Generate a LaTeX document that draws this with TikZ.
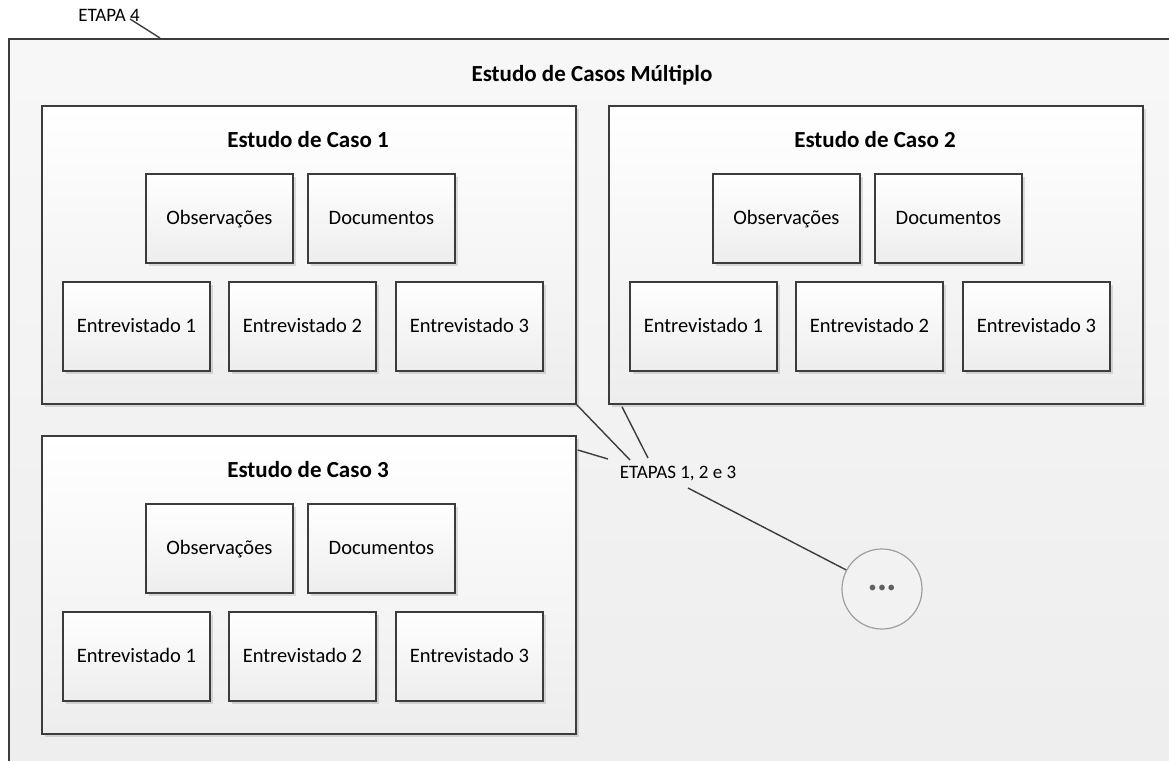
\documentclass[tikz,border=0pt]{standalone}
\usepackage{fontspec}
\setmainfont{Carlito}
\usetikzlibrary{shadows,calc}
\definecolor{edge}{HTML}{3C3C3C}
\definecolor{lowgray}{HTML}{EDEDED}
\tikzset{
  box/.style={draw=edge, line width=1.8pt, top color=white, bottom color=lowgray,
    drop shadow={shadow xshift=3pt, shadow yshift=-3pt, fill=black, opacity=0.12}},
  casebox/.style={box, minimum width=534pt, minimum height=298pt, anchor=north west},
  item/.style={box, minimum width=147pt, minimum height=89pt, anchor=north west, font=\fontsize{20.5}{24}\selectfont, inner sep=0pt, text height=1.15em, text depth=0em},
  ttl/.style={font=\bfseries\fontsize{23}{27}\selectfont},
  lbl/.style={font=\fontsize{19}{22}\selectfont, inner sep=1pt},
  conn/.style={draw=edge, line width=1.4pt},
  dots/.style={circle, draw=gray!75, line width=1.2pt, fill=white!95!black, minimum size=80pt, inner sep=0pt, text=gray!75!black}
}
\begin{document}
\begin{tikzpicture}[x=1pt,y=-1pt]
\useasboundingbox (0,0) rectangle (1169,760);
\begin{scope}
\clip (0,0) rectangle (1169,760);
\node[draw=edge, line width=1.8pt, top color=white!97!black, bottom color=lowgray, minimum width=1200pt, minimum height=760pt, anchor=north west] (outer) at (8,38) {};
\end{scope}
\node[lbl] (e4) at (109,15) {ETAPA 4};
\coordinate (e4a) at (130,19);
\coordinate (e4end) at (160,38);
\draw[conn] (e4a) -- (e4end);

\node[ttl] (main) at (592,75) {Estudo de Casos Múltiplo};

% Case boxes
\node[casebox] (c1) at (41,105) {};
\node[casebox] (c2) at (608,105) {};
\node[casebox] (c3) at (41,435) {};

\foreach \c/\x/\y/\n in {c1/41/105/1, c2/608/105/2, c3/41/435/3}{
  \node[ttl] (\c t) at ($(\x,\y)+(267,35)$) {Estudo de Caso \n};
  \node[item] (\c obs) at ($(\x,\y)+(104,68)$) {Observações};
  \node[item] (\c doc) at ($(\x,\y)+(266,68)$) {Documentos};
  \node[item] (\c e1) at ($(\x,\y)+(21,176)$) {Entrevistado 1};
  \node[item] (\c e2) at ($(\x,\y)+(187,176)$) {Entrevistado 2};
  \node[item] (\c e3) at ($(\x,\y)+(354,176)$) {Entrevistado 3};
}

\node[dots] (more) at (882,589) {\fontsize{16}{16}\selectfont\textbullet\hspace{1.5pt}\textbullet\hspace{1.5pt}\textbullet};

\node[lbl] (etapas) at (678,474) {ETAPAS 1, 2 e 3};
\draw[conn] (c1.south east) -- ($(etapas.center)+(-48,-14)$);
\draw[conn] ($(c2.south west)+(14,2)$) -- ($(etapas.center)+(-30,-16)$);
\draw[conn] ($(c3.north east)+(1,15)$) -- ($(etapas.center)+(-70,-15)$);
\draw[conn] ($(etapas.center)+(10,14)$) -- (more.152);
\end{tikzpicture}
\end{document}
